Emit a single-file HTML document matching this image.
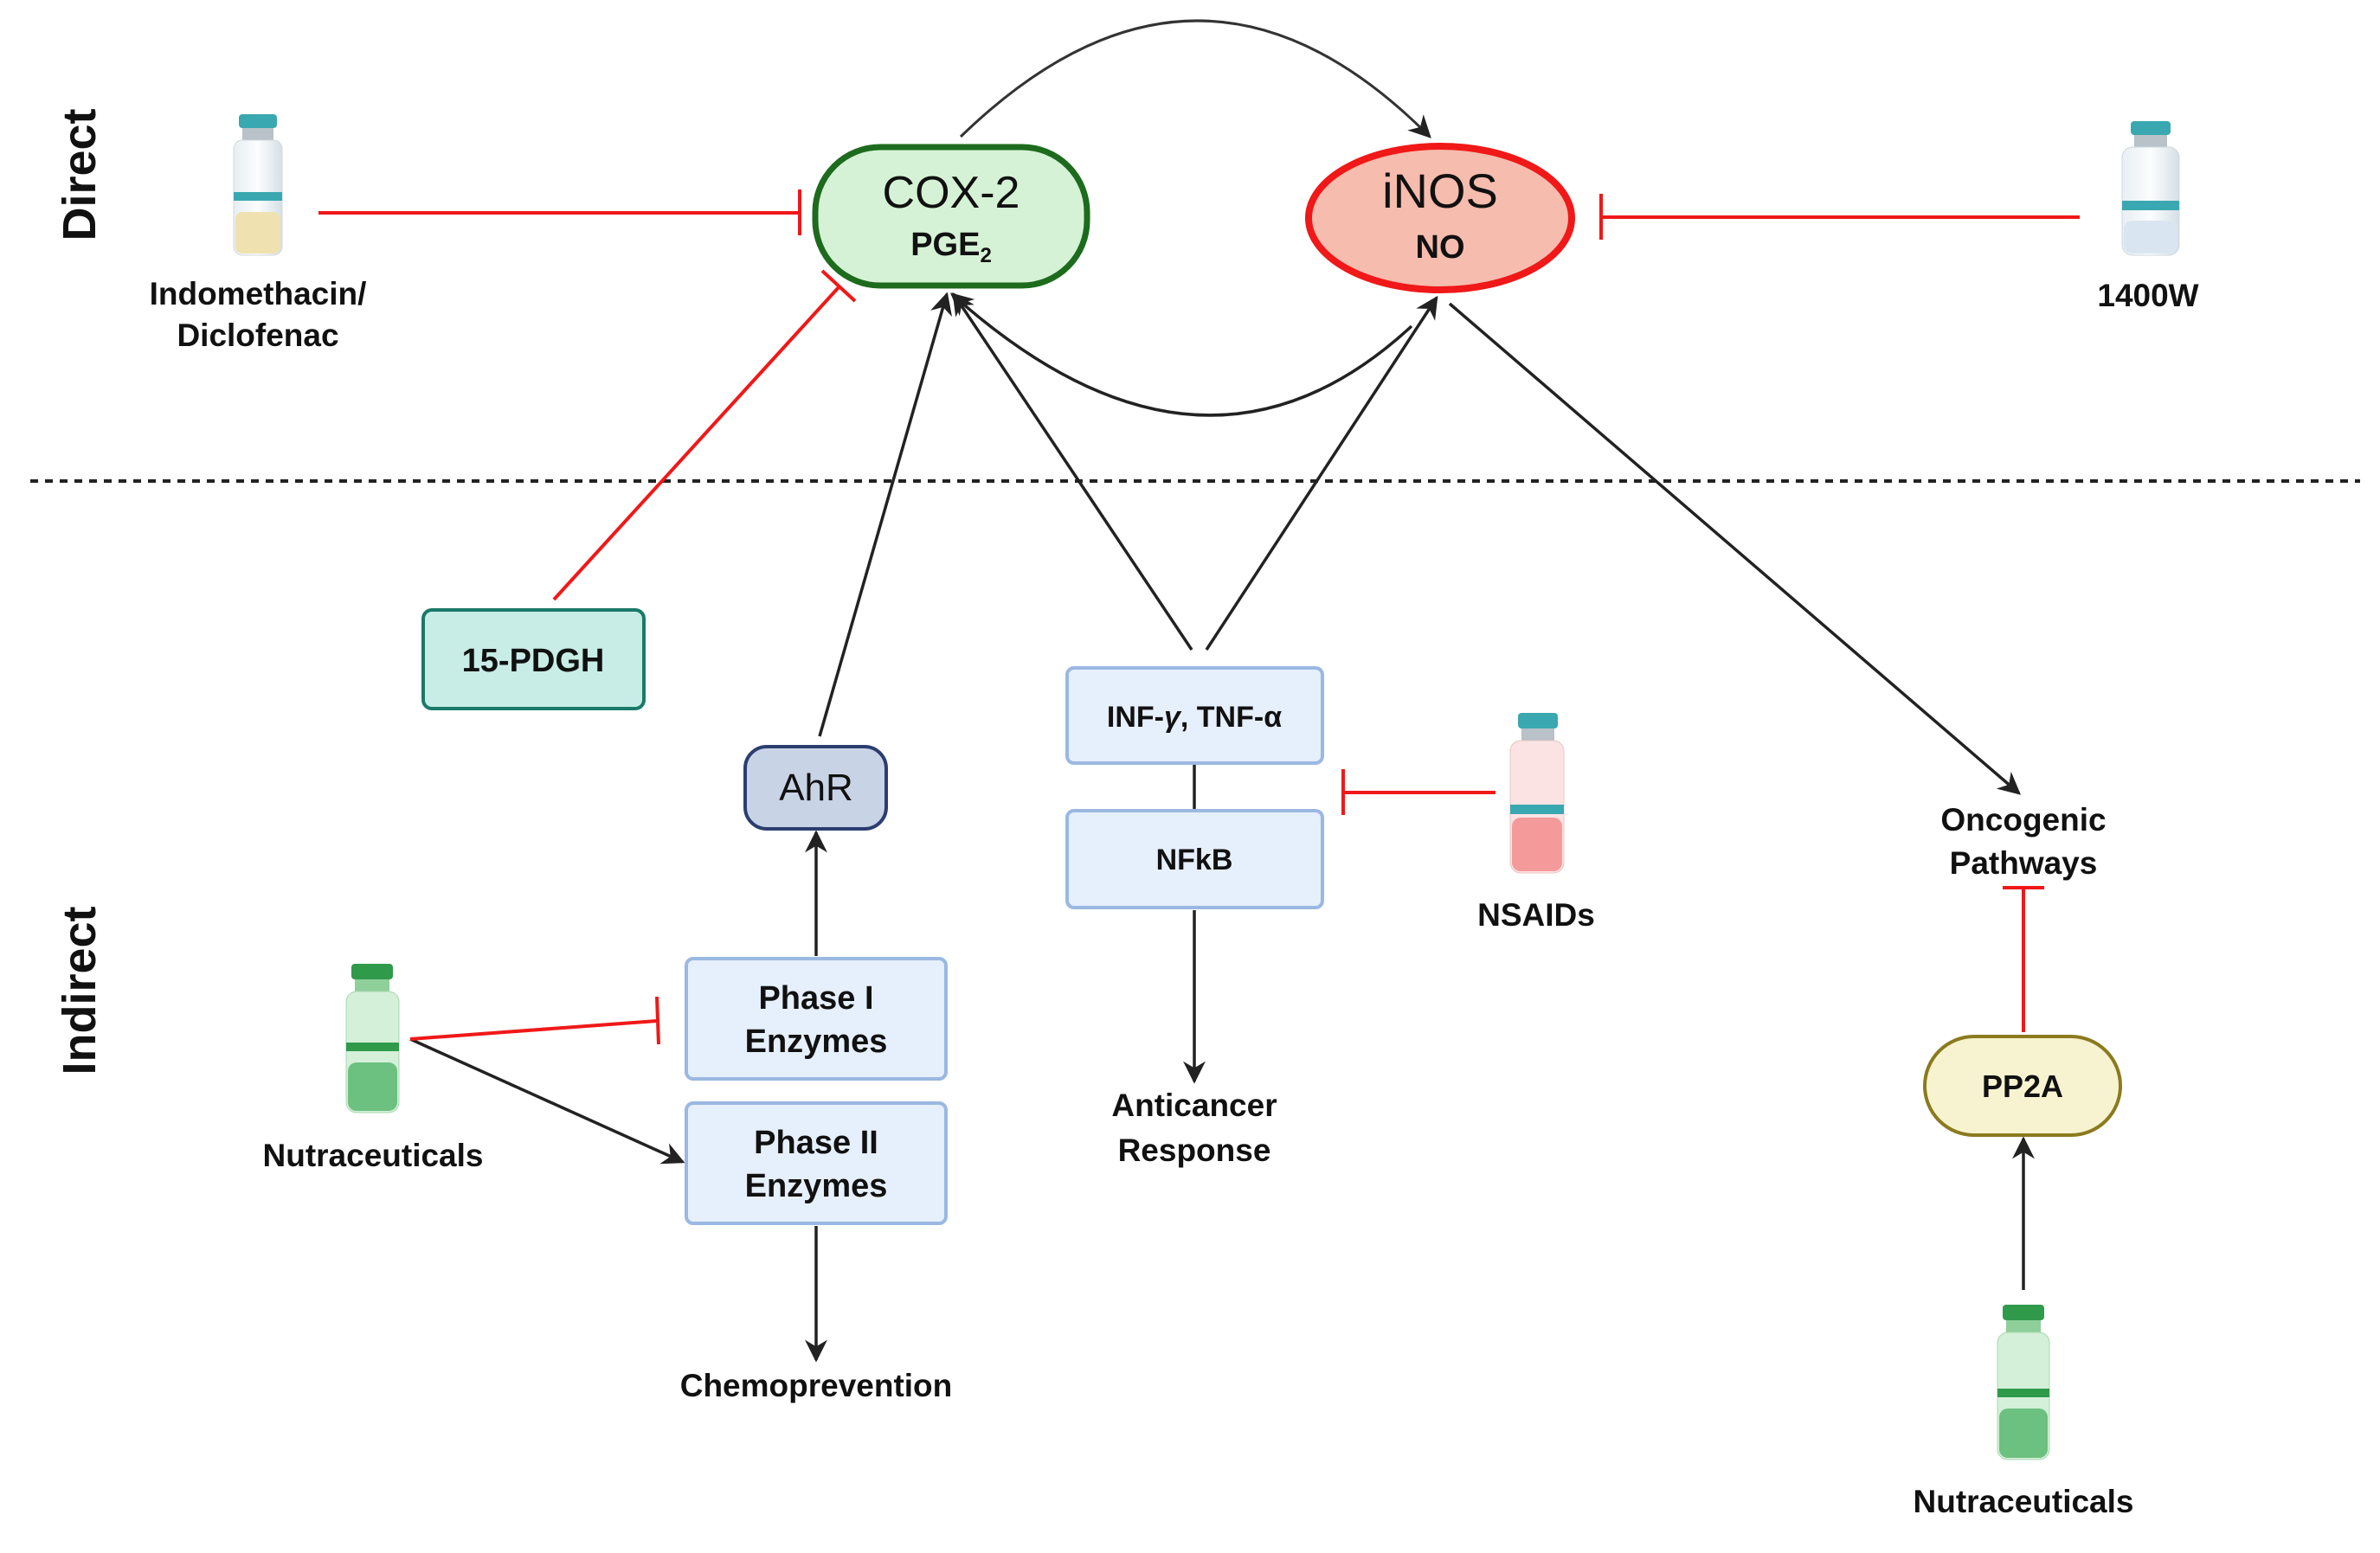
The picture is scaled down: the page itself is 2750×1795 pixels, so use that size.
<!DOCTYPE html>
<html><head><meta charset="utf-8"><style>
html,body{margin:0;padding:0;background:#fff}
svg text{font-family:"Liberation Sans",sans-serif}
.b{font-weight:bold;fill:#111}
</style></head><body>
<svg width="2750" height="1790" viewBox="0 0 2750 1790" xmlns="http://www.w3.org/2000/svg">
<defs>
<marker id="ar" markerWidth="10" markerHeight="10" refX="8" refY="5" orient="auto" markerUnits="userSpaceOnUse" viewBox="0 0 10 10">
</marker>
<marker id="a" viewBox="0 0 10 10" refX="9" refY="5" markerWidth="26" markerHeight="26" markerUnits="userSpaceOnUse" orient="auto"><path d="M0,0 L10,5 L0,10 L3,5 z" fill="#222"/></marker>
<linearGradient id="gv" x1="0" x2="1"><stop offset="0" stop-color="#e8eef2"/><stop offset="0.5" stop-color="#fbfdfe"/><stop offset="1" stop-color="#d6dfe5"/></linearGradient>
</defs>

<!-- dashed line -->
<line x1="35" y1="556" x2="2727" y2="556" stroke="#222" stroke-width="4" stroke-dasharray="9,8"/>

<!-- side labels -->
<text class="b" font-size="54" transform="translate(110,202) rotate(-90)" text-anchor="middle">Direct</text>
<text class="b" font-size="54" transform="translate(110,1145) rotate(-90)" text-anchor="middle">Indirect</text>

<!-- arcs -->
<path d="M1110,158 Q1386,-110 1652,158" fill="none" stroke="#333" stroke-width="3" marker-end="url(#a)"/>
<path d="M1631,377 Q1390,600 1100,340" fill="none" stroke="#222" stroke-width="3.5" marker-end="url(#a)"/>

<!-- arrows -->
<line x1="947" y1="851" x2="1094" y2="340" stroke="#222" stroke-width="3.5" marker-end="url(#a)"/>
<line x1="1377" y1="751" x2="1102" y2="340" stroke="#222" stroke-width="3.5" marker-end="url(#a)"/>
<line x1="1394" y1="751" x2="1660" y2="344" stroke="#222" stroke-width="3.5" marker-end="url(#a)"/>
<line x1="1675" y1="351" x2="2333" y2="917" stroke="#222" stroke-width="3.5" marker-end="url(#a)"/>
<line x1="943" y1="1105" x2="943" y2="962" stroke="#222" stroke-width="3.5" marker-end="url(#a)"/>
<line x1="943" y1="1417" x2="943" y2="1572" stroke="#222" stroke-width="3.5" marker-end="url(#a)"/>
<line x1="1380" y1="1052" x2="1380" y2="1250" stroke="#222" stroke-width="3.5" marker-end="url(#a)"/>
<line x1="2338" y1="1491" x2="2338" y2="1316" stroke="#222" stroke-width="3.5" marker-end="url(#a)"/>
<line x1="474" y1="1201" x2="789" y2="1343" stroke="#222" stroke-width="3.5" marker-end="url(#a)"/>
<line x1="1380" y1="882" x2="1380" y2="937" stroke="#222" stroke-width="3.5"/>

<!-- inhibition lines -->
<g stroke="#f01818" stroke-width="4" fill="none">
<line x1="368" y1="246" x2="924" y2="246"/><line x1="924" y1="219" x2="924" y2="272"/>
<line x1="2403" y1="251" x2="1850" y2="251"/><line x1="1850" y1="224" x2="1850" y2="277"/>
<line x1="640" y1="693" x2="970" y2="331"/><line x1="950" y1="313" x2="988" y2="348"/>
<line x1="1728" y1="916" x2="1552" y2="916"/><line x1="1552" y1="889" x2="1552" y2="942"/>
<line x1="474" y1="1201" x2="759" y2="1180"/><line x1="759" y1="1152" x2="761" y2="1207"/>
<line x1="2338" y1="1193" x2="2338" y2="1026"/><line x1="2314" y1="1026" x2="2362" y2="1026"/>
</g>

<!-- COX-2 -->
<rect x="942" y="170" width="314" height="160" rx="75" fill="#d6f2d6" stroke="#1d6b1d" stroke-width="7"/>
<text x="1099" y="240" font-size="52" text-anchor="middle" fill="#111">COX-2</text>
<text class="b" x="1099" y="295" font-size="38" text-anchor="middle">PGE<tspan font-size="24" dy="8">2</tspan></text>
<!-- iNOS -->
<ellipse cx="1664" cy="252" rx="152" ry="83" fill="#f6bcae" stroke="#f01818" stroke-width="8"/>
<text x="1664" y="240" font-size="56" text-anchor="middle" fill="#111">iNOS</text>
<text class="b" x="1664" y="298" font-size="38" text-anchor="middle">NO</text>

<!-- boxes -->
<rect x="489" y="705" width="255" height="114" rx="10" fill="#c8ece6" stroke="#1a7a6a" stroke-width="4"/>
<text class="b" x="616" y="776" font-size="38" text-anchor="middle">15-PDGH</text>
<rect x="861" y="863" width="163" height="95" rx="25" fill="#c9d3e6" stroke="#2c3e70" stroke-width="4"/>
<text x="943" y="925" font-size="44" text-anchor="middle" fill="#111">AhR</text>
<g fill="#e6effc" stroke="#9ab8e2" stroke-width="4">
<rect x="1233" y="772" width="295" height="110" rx="8"/>
<rect x="1233" y="937" width="295" height="112" rx="8"/>
<rect x="793" y="1108" width="300" height="139" rx="8"/>
<rect x="793" y="1275" width="300" height="139" rx="8"/>
</g>
<text class="b" x="1380" y="840" font-size="34" text-anchor="middle">INF-<tspan font-style="italic">γ</tspan>, TNF-α</text>
<text class="b" x="1380" y="1005" font-size="34" text-anchor="middle">NFkB</text>
<text class="b" x="943" y="1166" font-size="38" text-anchor="middle">Phase I</text>
<text class="b" x="943" y="1216" font-size="38" text-anchor="middle">Enzymes</text>
<text class="b" x="943" y="1333" font-size="38" text-anchor="middle">Phase II</text>
<text class="b" x="943" y="1383" font-size="38" text-anchor="middle">Enzymes</text>
<rect x="2224" y="1198" width="226" height="114" rx="57" fill="#f7f3d0" stroke="#8b7a1e" stroke-width="4"/>
<text class="b" x="2337" y="1268" font-size="36" text-anchor="middle">PP2A</text>

<!-- labels -->
<g class="b" font-size="37" text-anchor="middle">
<text class="b" x="298" y="352">Indomethacin/</text>
<text class="b" x="298" y="400">Diclofenac</text>
<text class="b" x="2482" y="354">1400W</text>
<text class="b" x="1775" y="1070">NSAIDs</text>
<text class="b" x="1380" y="1290">Anticancer</text>
<text class="b" x="1380" y="1342">Response</text>
<text class="b" x="2338" y="960">Oncogenic</text>
<text class="b" x="2338" y="1010">Pathways</text>
<text class="b" x="943" y="1614">Chemoprevention</text>
<text class="b" x="431" y="1348">Nutraceuticals</text>
<text class="b" x="2338" y="1748">Nutraceuticals</text>
</g>

<!-- vials -->
<g>
<rect x="276" y="132" width="44" height="16" rx="4" fill="#3aa8b0"/>
<rect x="280" y="148" width="36" height="14" fill="#b8c2c8"/>
<rect x="270" y="162" width="56" height="133" rx="10" fill="url(#gv)" stroke="#d0d8dc"/>
<rect x="272" y="245" width="52" height="48" rx="8" fill="#efe1b0"/>
<rect x="270" y="222" width="56" height="10" fill="#3aa8b0"/>
</g>
<g>
<rect x="2462" y="140" width="46" height="16" rx="4" fill="#3aa8b0"/>
<rect x="2466" y="156" width="38" height="14" fill="#b8c2c8"/>
<rect x="2452" y="170" width="66" height="125" rx="12" fill="url(#gv)" stroke="#d0d8dc"/>
<rect x="2454" y="255" width="62" height="38" rx="10" fill="#d9e6f1"/>
<rect x="2452" y="232" width="66" height="11" fill="#3aa8b0"/>
</g>
<g>
<rect x="1754" y="824" width="46" height="18" rx="4" fill="#3aa8b0"/>
<rect x="1758" y="842" width="38" height="14" fill="#b8c2c8"/>
<rect x="1745" y="856" width="62" height="153" rx="12" fill="#fbe3e3" stroke="#e8c4c4"/>
<rect x="1747" y="945" width="58" height="62" rx="10" fill="#f49a9a"/>
<rect x="1745" y="930" width="62" height="11" fill="#3aa8b0"/>
</g>
<g>
<rect x="406" y="1114" width="48" height="18" rx="4" fill="#2f9a4a"/>
<rect x="410" y="1132" width="40" height="14" fill="#8fcf9a"/>
<rect x="400" y="1146" width="61" height="140" rx="12" fill="#d4f0d8" stroke="#a8d8b0"/>
<rect x="402" y="1228" width="57" height="56" rx="10" fill="#6cc080"/>
<rect x="400" y="1205" width="61" height="10" fill="#2f9a4a"/>
</g>
<g>
<rect x="2314" y="1508" width="48" height="18" rx="4" fill="#2f9a4a"/>
<rect x="2318" y="1526" width="40" height="14" fill="#8fcf9a"/>
<rect x="2308" y="1540" width="60" height="147" rx="12" fill="#d4f0d8" stroke="#a8d8b0"/>
<rect x="2310" y="1628" width="56" height="57" rx="10" fill="#6cc080"/>
<rect x="2308" y="1605" width="60" height="10" fill="#2f9a4a"/>
</g>
</svg>
</body></html>
